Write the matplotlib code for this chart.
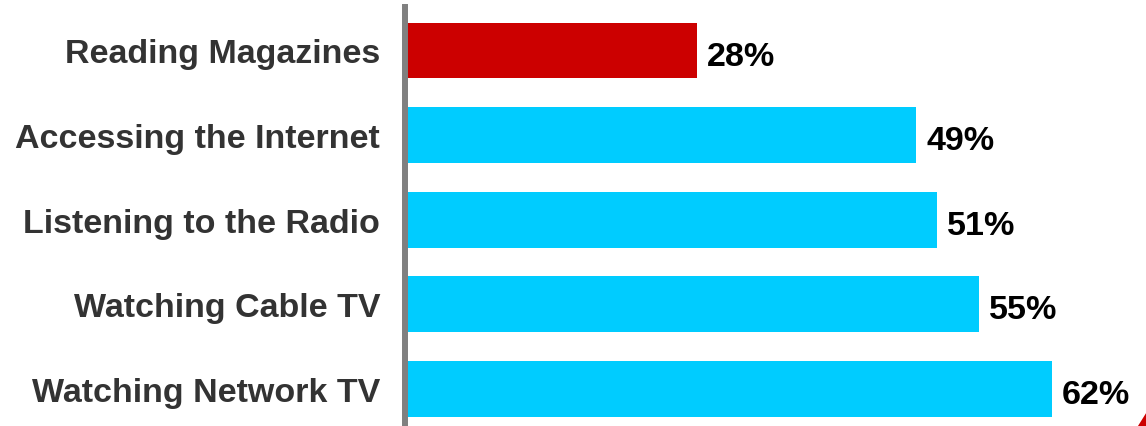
import matplotlib
matplotlib.use("Agg")
import matplotlib.pyplot as plt
from matplotlib.patches import Polygon

activities = ["Reading Magazines", "Accessing the Internet", "Listening to the Radio",
              "Watching Cable TV", "Watching Network TV"]
shares = [28, 49, 51, 55, 62]
colors = ["#CC0000", "#00CCFF", "#00CCFF", "#00CCFF", "#00CCFF"]

plt.rcParams["font.family"] = ["Liberation Sans", "DejaVu Sans"]

fig = plt.figure(figsize=(11.46, 4.27), dpi=100)
ax = fig.add_axes([405 / 1146, 0, 1 - 405 / 1146, 1 - 8 / 427])

pos = range(len(activities))
ax.barh(pos, shares, height=0.66, color=colors, zorder=1)

for p, v in zip(pos, shares):
    ax.annotate(f"{v}%", (v, p), xytext=(7, -1.5), textcoords="offset points",
                va="center_baseline", ha="left",
                fontsize=24.6, fontweight="bold", color="black")

ax.set_xlim(0, 71)
ax.set_ylim(4.437, -0.514)
ax.set_yticks(list(pos))
ax.set_yticklabels(activities, fontsize=24.5, fontweight="bold", color="#333333")
ax.tick_params(axis="y", length=0, pad=18)
ax.set_xticks([])
for side in ["top", "right", "bottom"]:
    ax.spines[side].set_visible(False)
ax.spines["left"].set_color("#808080")
ax.spines["left"].set_linewidth(4.3)

# small red corner mark
fig.patches.append(Polygon([[1.0, 0.0], [1.0, 0.03], [0.993, 0.0]],
                           closed=True, transform=fig.transFigure,
                           facecolor="#CC0000", edgecolor="none"))

fig.savefig("out.png", dpi=100)
